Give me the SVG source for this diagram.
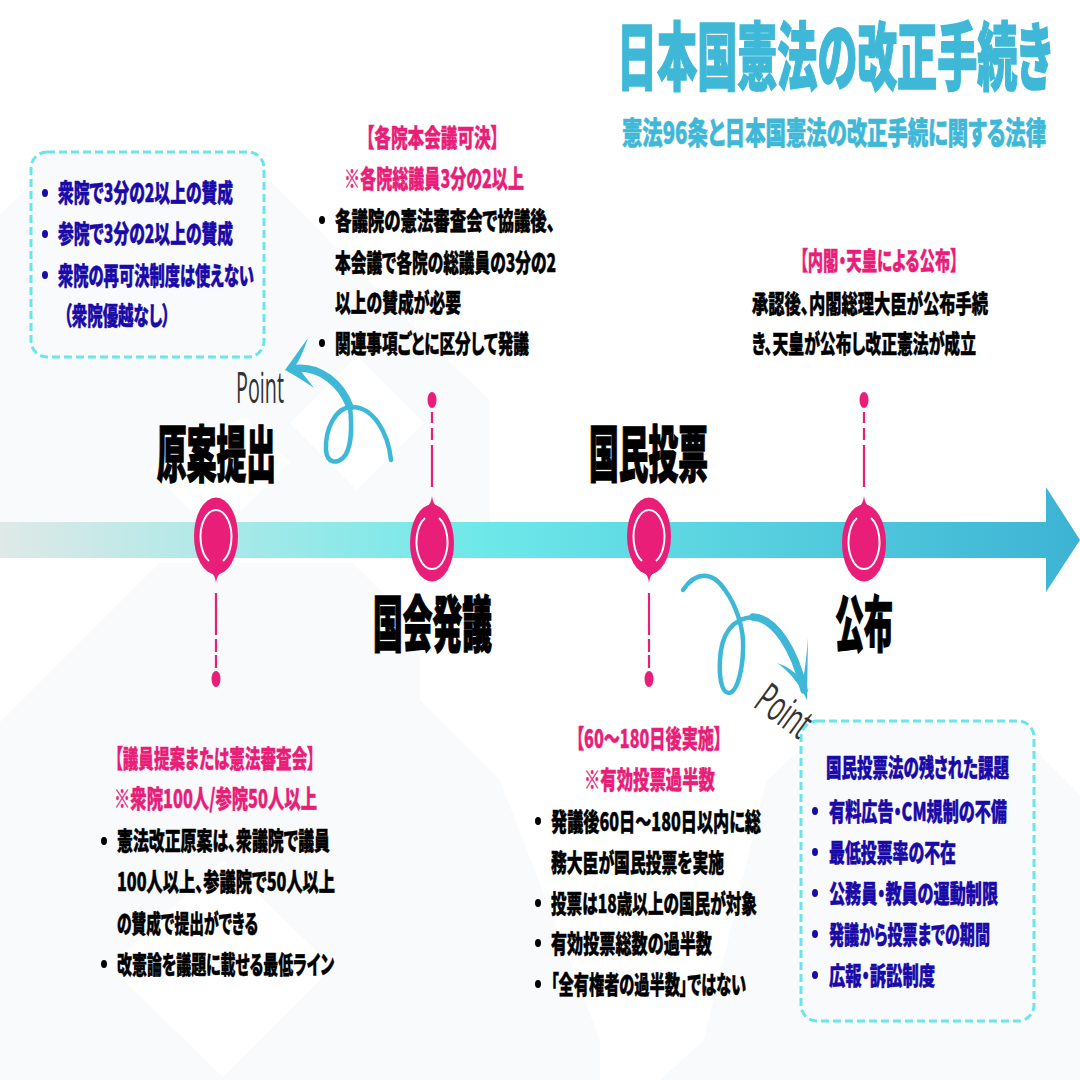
<svg xmlns="http://www.w3.org/2000/svg" xmlns:xlink="http://www.w3.org/1999/xlink" width="1080" height="1080" viewBox="0 0 1080 1080">
<style>
text{font-family:"Noto Sans CJK JP","Noto Sans CJK SC",sans-serif;font-weight:900;font-feature-settings:"palt"}
.k{fill:#000;font-size:25.5px;stroke:#000;stroke-width:.5}
.p{fill:#e91e79;font-size:25.5px;stroke:#e91e79;stroke-width:.4}
.b{fill:#1a0aa8;font-size:25.5px;stroke:#1a0aa8;stroke-width:.5}
.big{fill:#000;font-size:61px;stroke:#000;stroke-width:1.4}
.ttl{fill:#3fb8d8;stroke:#3fb8d8}
.pt{font-family:"Open Sans","Liberation Sans",sans-serif;font-weight:400;font-size:43px;fill:#333;font-feature-settings:normal}
.box{fill:#f9fafc;stroke:#6be6e8;stroke-width:3;stroke-dasharray:8 4}
.pale{fill:#f9fafc}
.w{fill:#fff}
.mk{fill:#e91e79}
.ring{fill:none;stroke:#fff;stroke-width:2}
.dash{fill:none;stroke:#e91e79;stroke-width:2.2}
.curl{fill:none;stroke:#3fb8d8;stroke-width:4.5;stroke-linecap:round}
.curlh{fill:none;stroke:#3fb8d8;stroke-width:7.5;stroke-linecap:round}
.hd{fill:#3fb8d8}
.dk{fill:#000}.db{fill:#1a0aa8}
</style>
<defs>
<linearGradient id="g" x1="0" y1="0" x2="1080" y2="0" gradientUnits="userSpaceOnUse">
<stop offset="0" stop-color="#dfe9e7"/><stop offset=".45" stop-color="#6de8e9"/><stop offset="1" stop-color="#3db3d4"/>
</linearGradient>
</defs>
<g id="background">
<path class="pale" d="M0,215 L55,160 L250,160 L432,345 L490,400 L490,522 L0,522Z"/>
<path class="w" d="M150,470 L216,536 L290,462 L245,417 L195,440Z"/>
<path class="w" d="M357,490 L290,423 L357,356 L424,423Z"/>
<path class="pale" d="M0,722 L159,563 L353,563 L420,630 L420,700 L500,780 L600,1040 L600,1080 L0,1080Z"/>
<path class="w" d="M110,967 L223,1077 L333,967 L223,860Z"/>
<path class="pale" d="M830,720 L1005,720 L1080,795 L1080,1080 L660,1080 L704,1040 L766,782Z"/>
</g>
<g id="timeline"><path fill="url(#g)" d="M0,522 H1046 V487 L1080,540 L1046,592 V558 H0Z"/></g>
<g id="title">
<text class="ttl" x="617" y="84" font-size="74" stroke-width="1.6" textLength="435" lengthAdjust="spacingAndGlyphs">日本国憲法の改正手続き</text>
<text class="ttl" x="622" y="144" font-size="31" stroke-width=".6" textLength="424" lengthAdjust="spacingAndGlyphs">憲法96条と日本国憲法の改正手続に関する法律</text>
</g>
<g id="connectors">
<path class="dash" d="M216,593 V668" stroke-dasharray="42 4 13 3 13"/>
<ellipse class="mk" cx="216" cy="679" rx="4.5" ry="8"/>
<path class="dash" d="M649,593 V668" stroke-dasharray="42 4 13 3 13"/>
<ellipse class="mk" cx="649" cy="679" rx="4.5" ry="8"/>
<path class="dash" d="M432,412 V487" stroke-dasharray="11 5 12 5 42"/>
<ellipse class="mk" cx="432" cy="400" rx="4.5" ry="8"/>
<path class="dash" d="M864,412 V487" stroke-dasharray="11 5 12 5 42"/>
<ellipse class="mk" cx="864" cy="400" rx="4.5" ry="8"/>
<path class="curl" d="M391,460 C388,432 373,407 352,407 C335,407 325,430 326,450 C327,463 336,464 343,458 C352,449 352,425 350,407"/>
<path class="curlh" d="M350,407 C342,385 320,364 292,369"/>
<path class="hd" d="M285,370 L308,338 Q301,358 296,365 Q304,375 314,388 Q298,377 285,370Z"/>
<path class="curl" d="M683,590 C695,572 712,570 725,590 C736,605 742,625 743,640 C744,665 738,692 729,693 C721,693 719,675 720,660 C721,635 732,618 753,617"/>
<path class="curlh" d="M753,617 C775,618 795,650 804,690"/>
<path class="hd" d="M807,700 L808,638 Q806,664 803,680 Q790,667 777,663 Q795,675 807,700Z"/>
</g>
<g id="node-genan">
<text class="big" x="157" y="477" textLength="119" lengthAdjust="spacingAndGlyphs">原案提出</text>
<g transform="translate(216,536)"><ellipse class="mk" rx="22" ry="38.5"/><path class="mk" d="M-6,36 Q-1,38 0,47 Q1,38 6,36Z"/><path class="ring" d="M-7,25 A15.5,27 0 1 1 7,25"/></g>
<text class="p" x="115" y="768" textLength="200" lengthAdjust="spacingAndGlyphs">【議員提案または憲法審査会】</text>
<text class="p" x="114" y="808" textLength="203" lengthAdjust="spacingAndGlyphs">※衆院100人/参院50人以上</text>
<ellipse class="dk" cx="104" cy="841" rx="3" ry="4"/>
<text class="k" x="117" y="850" textLength="213" lengthAdjust="spacingAndGlyphs">憲法改正原案は、衆議院で議員</text>
<text class="k" x="117" y="891" textLength="218" lengthAdjust="spacingAndGlyphs">100人以上、参議院で50人以上</text>
<text class="k" x="117" y="933" textLength="141" lengthAdjust="spacingAndGlyphs">の賛成で提出ができる</text>
<ellipse class="dk" cx="104" cy="964" rx="3" ry="4"/>
<text class="k" x="117" y="974" textLength="217" lengthAdjust="spacingAndGlyphs">改憲論を議題に載せる最低ライン</text>
</g>
<g id="node-point1">
<rect class="box" x="31" y="152" width="233" height="205" rx="16"/>
<text class="b" x="58" y="202" textLength="175" lengthAdjust="spacingAndGlyphs">衆院で3分の2以上の賛成</text>
<text class="b" x="58" y="243" textLength="175" lengthAdjust="spacingAndGlyphs">参院で3分の2以上の賛成</text>
<text class="b" x="58" y="285" textLength="196" lengthAdjust="spacingAndGlyphs">衆院の再可決制度は使えない</text>
<text class="b" x="64" y="325" textLength="106" lengthAdjust="spacingAndGlyphs">（衆院優越なし）</text>
<ellipse class="db" cx="45" cy="193" rx="3" ry="4"/><ellipse class="db" cx="45" cy="234" rx="3" ry="4"/><ellipse class="db" cx="45" cy="275" rx="3" ry="4"/>
<text class="pt" x="236" y="403" textLength="48" lengthAdjust="spacingAndGlyphs">Point</text>
</g>
<g id="node-hatsugi">
<text class="big" x="373" y="647" textLength="119" lengthAdjust="spacingAndGlyphs">国会発議</text>
<g transform="translate(432,543)"><ellipse class="mk" rx="22" ry="38.5"/><path class="mk" d="M-6,-36 Q-1,-38 0,-47 Q1,-38 6,-36Z"/><path class="ring" d="M-7,-25 A15.5,27 0 1 0 7,-25"/></g>
<text class="p" x="366" y="147" textLength="133" lengthAdjust="spacingAndGlyphs">【各院本会議可決】</text>
<text class="p" x="344" y="188" textLength="180" lengthAdjust="spacingAndGlyphs">※各院総議員3分の2以上</text>
<ellipse class="dk" cx="322" cy="220" rx="3" ry="4"/>
<text class="k" x="335" y="230" textLength="220" lengthAdjust="spacingAndGlyphs">各議院の憲法審査会で協議後、</text>
<text class="k" x="335" y="272" textLength="221" lengthAdjust="spacingAndGlyphs">本会議で各院の総議員の3分の2</text>
<text class="k" x="335" y="312" textLength="126" lengthAdjust="spacingAndGlyphs">以上の賛成が必要</text>
<ellipse class="dk" cx="322" cy="343" rx="3" ry="4"/>
<text class="k" x="335" y="353" textLength="194" lengthAdjust="spacingAndGlyphs">関連事項ごとに区分して発議</text>
</g>
<g id="node-tohyo">
<text class="big" x="589" y="477" textLength="119" lengthAdjust="spacingAndGlyphs">国民投票</text>
<g transform="translate(649,536)"><ellipse class="mk" rx="22" ry="38.5"/><path class="mk" d="M-6,36 Q-1,38 0,47 Q1,38 6,36Z"/><path class="ring" d="M-7,25 A15.5,27 0 1 1 7,25"/></g>
<text class="p" x="576" y="748" textLength="146" lengthAdjust="spacingAndGlyphs">【60～180日後実施】</text>
<text class="p" x="584" y="789" textLength="131" lengthAdjust="spacingAndGlyphs">※有効投票過半数</text>
<ellipse class="dk" cx="538" cy="821" rx="3" ry="4"/>
<text class="k" x="551" y="831" textLength="210" lengthAdjust="spacingAndGlyphs">発議後60日～180日以内に総</text>
<text class="k" x="551" y="872" textLength="173" lengthAdjust="spacingAndGlyphs">務大臣が国民投票を実施</text>
<ellipse class="dk" cx="538" cy="903" rx="3" ry="4"/>
<text class="k" x="551" y="913" textLength="206" lengthAdjust="spacingAndGlyphs">投票は18歳以上の国民が対象</text>
<ellipse class="dk" cx="538" cy="943" rx="3" ry="4"/>
<text class="k" x="551" y="953" textLength="161" lengthAdjust="spacingAndGlyphs">有効投票総数の過半数</text>
<ellipse class="dk" cx="538" cy="984" rx="3" ry="4"/>
<text class="k" x="551" y="994" textLength="195" lengthAdjust="spacingAndGlyphs">「全有権者の過半数」ではない</text>
</g>
<g id="node-point2">
<rect class="box" x="801" y="721" width="233" height="300" rx="16"/>
<text class="pt" transform="translate(752,706) rotate(36)" textLength="58" lengthAdjust="spacingAndGlyphs">Point</text>
<text class="b" x="826" y="777" textLength="183" lengthAdjust="spacingAndGlyphs">国民投票法の残された課題</text>
<text class="b" x="829" y="821" textLength="178" lengthAdjust="spacingAndGlyphs">有料広告・CM規制の不備</text>
<text class="b" x="829" y="862" textLength="127" lengthAdjust="spacingAndGlyphs">最低投票率の不在</text>
<text class="b" x="829" y="903" textLength="169" lengthAdjust="spacingAndGlyphs">公務員・教員の運動制限</text>
<text class="b" x="829" y="944" textLength="161" lengthAdjust="spacingAndGlyphs">発議から投票までの期間</text>
<text class="b" x="829" y="985" textLength="106" lengthAdjust="spacingAndGlyphs">広報・訴訟制度</text>
<ellipse class="db" cx="815" cy="811" rx="3" ry="4"/><ellipse class="db" cx="815" cy="852" rx="3" ry="4"/><ellipse class="db" cx="815" cy="893" rx="3" ry="4"/><ellipse class="db" cx="815" cy="934" rx="3" ry="4"/><ellipse class="db" cx="815" cy="975" rx="3" ry="4"/>
</g>
<g id="node-kofu">
<text class="big" x="835" y="647" textLength="58" lengthAdjust="spacingAndGlyphs">公布</text>
<g transform="translate(864,543)"><ellipse class="mk" rx="22" ry="38.5"/><path class="mk" d="M-6,-36 Q-1,-38 0,-47 Q1,-38 6,-36Z"/><path class="ring" d="M-7,-25 A15.5,27 0 1 0 7,-25"/></g>
<text class="p" x="800" y="270" textLength="158" lengthAdjust="spacingAndGlyphs">【内閣・天皇による公布】</text>
<text class="k" x="752" y="313" textLength="236" lengthAdjust="spacingAndGlyphs">承認後、内閣総理大臣が公布手続</text>
<text class="k" x="752" y="353" textLength="224" lengthAdjust="spacingAndGlyphs">き、天皇が公布し改正憲法が成立</text>
</g>
</svg>
